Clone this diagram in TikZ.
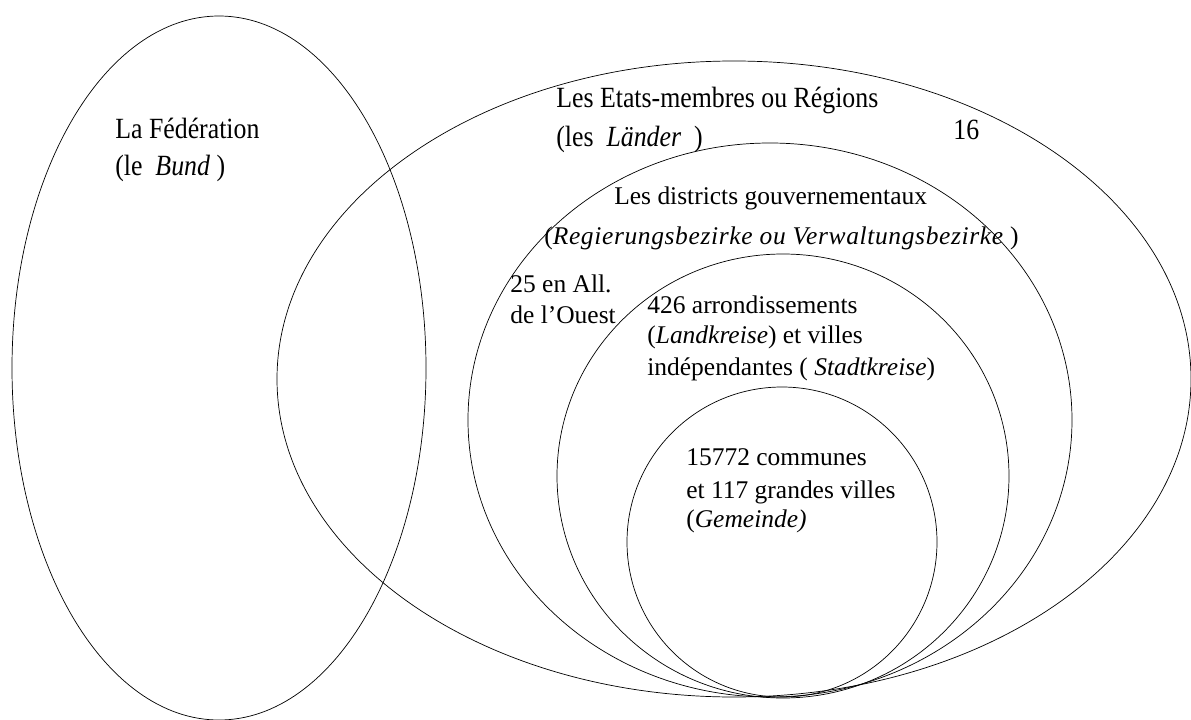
\documentclass[tikz,border=0pt]{standalone}
\usepackage{fontspec}
\setmainfont{Liberation Serif}
\newfontfamily\narrowfont[FakeStretch=0.88]{Liberation Serif}

\begin{document}
\begin{tikzpicture}[x=0.02cm,y=-0.02cm]

        \useasboundingbox (0,0) rectangle (1191,720);

        \begin{scope}[thin]
          \draw (219,368) ellipse [x radius=207, y radius=352];
          \draw (734,379) ellipse [x radius=457, y radius=318];
          \draw (770,420) ellipse [x radius=302, y radius=277];
          \draw (783,476) ellipse [x radius=226, y radius=222];
          \draw (782,542) ellipse [x radius=155, y radius=155];
        \end{scope}

        \begin{scope}[every node/.style={anchor=base west, inner sep=0pt,
            font=\narrowfont\fontsize{16.7}{20}\selectfont}]
          \node (bund1) at (115,138) {La Fédération};
          \node (bund2) at (115,175) {(le\ \ \textit{Bund} )};
          \node (land1) at (556,107) {Les Etats-membres ou Régions};
          \node (land2) at (556,146) {(les\ \ \textit{Länder}\ \ )};
          \node (landn) at (953,139) {16};
        \end{scope}

        \begin{scope}[every node/.style={anchor=base west, inner sep=0pt,
            font=\fontsize{14.5}{17}\selectfont}]
          \node (dist1) at (614,204) {Les districts gouvernementaux};
          \node (dist2) at (544,244) {(\textit{\addfontfeature{LetterSpace=2.5}Regierungsbezirke ou Verwaltungsbezirke} )};
          \node (distn1) at (510,292) {25 en All.};
          \node (distn2) at (510,323) {de l'Ouest};
          \node (kreis1) at (647,313) {426 arrondissements};
          \node (kreis2) at (647,343) {(\textit{Landkreise}) et villes};
          \node (kreis3) at (647,375) {indépendantes ( \textit{Stadtkreise})};
          \node (gem1) at (686,465) {15772 communes};
          \node (gem2) at (686,498) {et 117 grandes villes};
          \node (gem3) at (686,527) {(\textit{Gemeinde)}};
        \end{scope}

      \end{tikzpicture}
\end{document}
